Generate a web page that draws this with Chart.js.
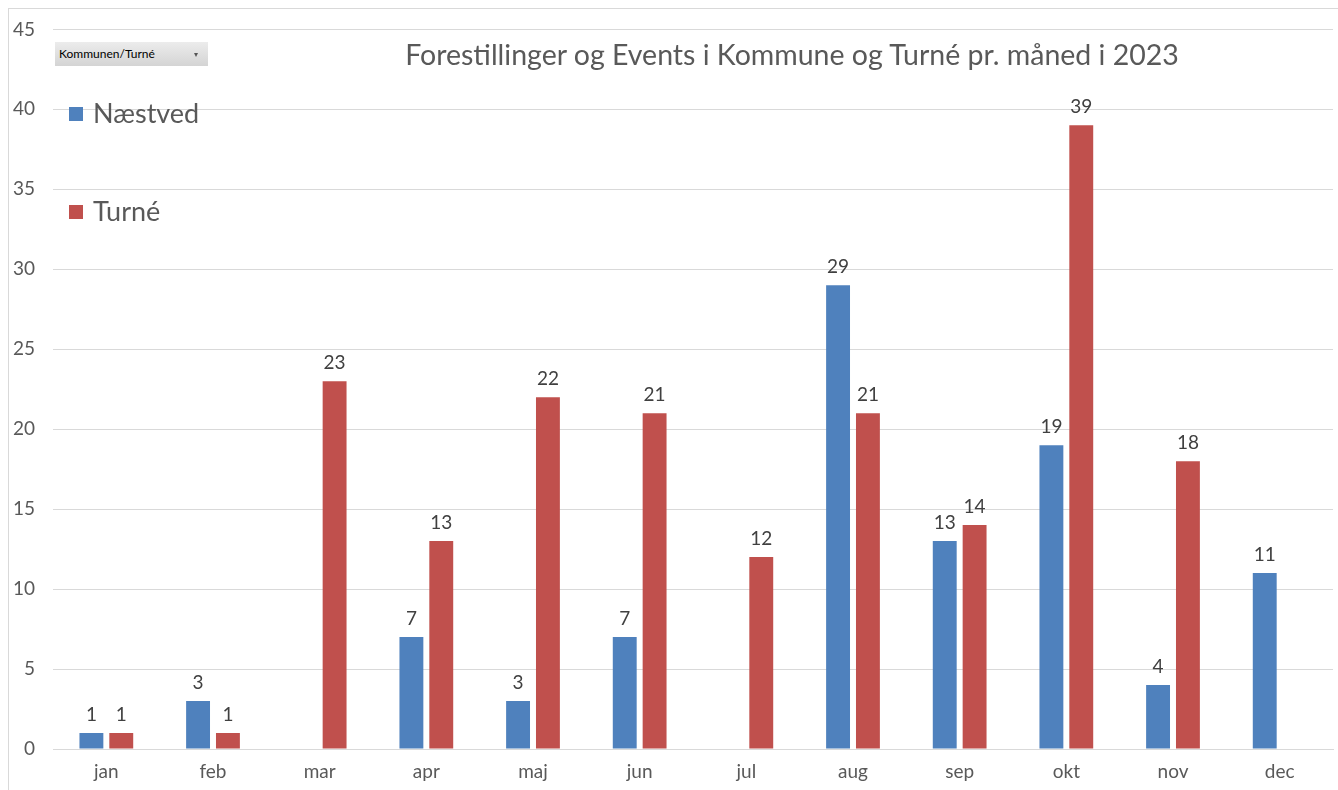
<!DOCTYPE html>
<html lang="da">
<head>
    <meta charset="UTF-8">
    <title>Forestillinger og Events</title>
    <script src="https://cdn.jsdelivr.net/npm/chart.js"></script>
    <style>
        html, body { margin: 0; padding: 0; background: #fff; }
        #wrap { position: relative; width: 1338px; height: 790px; overflow: hidden; font-family: Lato, "Open Sans", sans-serif; }
        #frame { position: absolute; left: 8px; top: 8px; width: 1340px; height: 800px; border-left: 1px solid #d9d9d9; border-top: 1px solid #d9d9d9; }
        #title { position: absolute; left: 392px; top: 37px; width: 800px; text-align: center; font-size: 28.5px; color: #595959; white-space: nowrap; }
        #filterBtn { position: absolute; left: 55px; top: 42px; width: 153px; height: 24px; background: linear-gradient(#ececec, #d4d4d4); font-size: 12px; color: #000; line-height: 24px; padding-left: 4px; box-sizing: border-box; }
        #filterBtn span { position: absolute; right: 10px; font-size: 8px; color: #555; }
        .leg { position: absolute; left: 69px; font-size: 27px; color: #595959; }
        .leg i { display: inline-block; width: 14px; height: 14px; margin-right: 10px; vertical-align: 2px; }
        #chart { position: absolute; left: 0; top: 0; }
    </style>
</head>
<body>
<div id="wrap">
    <div id="frame"></div>
    <canvas id="chart" width="1338" height="790"></canvas>
    <div id="filterBtn">Kommunen/Turné<span>▾</span></div>
    <div id="title">Forestillinger og Events i Kommune og Turné pr. måned i 2023</div>
    <div class="leg" style="top:96px"><i style="background:#4f81bd"></i>Næstved</div>
    <div class="leg" style="top:194px"><i style="background:#c0504d"></i>Turné</div>
</div>
<script>
    const months = ['jan', 'feb', 'mar', 'apr', 'maj', 'jun', 'jul', 'aug', 'sep', 'okt', 'nov', 'dec'];
    const naestved = [1, 3, null, 7, 3, 7, null, 29, 13, 19, 4, 11];
    const turne = [1, 1, 23, 13, 22, 21, 12, 21, 14, 39, 18, null];
    const yTicks = [0, 5, 10, 15, 20, 25, 30, 35, 40, 45];

    // draws the number above each bar
    const barLabels = {
        id: 'barLabels',
        afterDatasetsDraw(chart) {
            const ctx = chart.ctx;
            ctx.save();
            ctx.font = '19px Lato, "Open Sans", sans-serif';
            ctx.fillStyle = '#404040';
            ctx.textAlign = 'center';
            ctx.textBaseline = 'bottom';
            chart.data.datasets.forEach((ds, i) => {
                chart.getDatasetMeta(i).data.forEach((bar, j) => {
                    if (ds.data[j] == null) return;
                    ctx.fillText(ds.data[j], bar.x, bar.y - 9);
                });
            });
            ctx.restore();
        }
    };

    new Chart(document.getElementById('chart'), {
        type: 'bar',
        data: {
            labels: months,
            datasets: [
                { label: 'Næstved', data: naestved, backgroundColor: '#4f81bd' },
                { label: 'Turné', data: turne, backgroundColor: '#c0504d' }
            ]
        },
        options: {
            responsive: false,
            animation: false,
            layout: { padding: { top: 28, right: 5, left: 0, bottom: 0 } },
            datasets: { bar: { categoryPercentage: 0.56, barPercentage: 0.8 } },
            plugins: { legend: { display: false }, tooltip: { enabled: false } },
            scales: {
                x: {
                    grid: { display: false, drawTicks: false },
                    border: { color: '#d9d9d9' },
                    ticks: { color: '#595959', font: { size: 19, family: 'Lato' }, padding: 11 },
                    afterFit(scale) { scale.height = 41; }
                },
                y: {
                    min: 0, max: 45,
                    afterBuildTicks(scale) { scale.ticks = yTicks.map(v => ({ value: v })); },
                    grid: { color: '#d9d9d9', drawTicks: false },
                    border: { display: false },
                    ticks: { color: '#595959', font: { size: 19, family: 'Lato' }, padding: 18 },
                    afterFit(scale) { scale.width = 53; }
                }
            }
        },
        plugins: [barLabels]
    });
</script>
</body>
</html>
